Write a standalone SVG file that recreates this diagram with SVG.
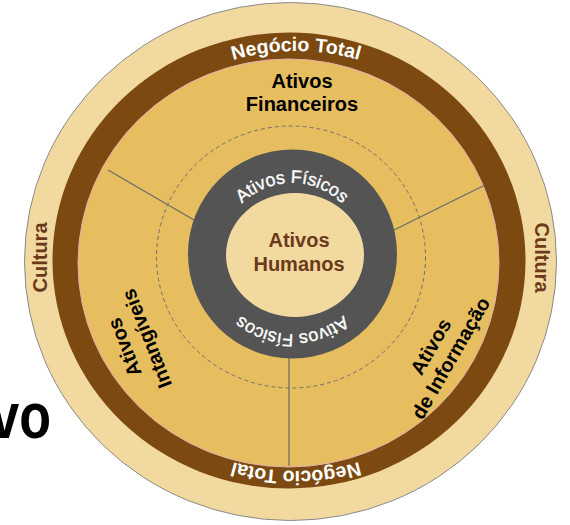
<svg xmlns="http://www.w3.org/2000/svg" width="570" height="525" viewBox="0 0 570 525">
<style>
  .lbl { font-family: "Liberation Sans", Arial, sans-serif; font-weight: bold; }
  .blk { fill: #000; font-size: 20px; }
  .hum { fill: #6B3A1A; font-size: 20px; }
  .cul { fill: #6B3A1A; font-size: 20px; }
  .wht { fill: #fff; }
  .div { stroke: #6a6a6a; stroke-width: 1.2; fill: none; }
</style>
<defs>
  <path id="ntTop" d="M 79 261 A 217 210 0 0 1 513 261"/>
  <path id="ntBot" d="M 513 261 A 217 210 0 0 1 79 261"/>
  <path id="afTop" d="M 221 254 A 71 71 0 0 1 363 254"/>
  <path id="afBot" d="M 372 254 A 80 80 0 0 1 212 254"/>
</defs>
<rect width="570" height="525" fill="#fff"/>
<g id="title-fragment">
  <text class="lbl" transform="translate(51,438) scale(0.8,1)" text-anchor="end" font-size="65" fill="#000">vo</text>
</g>
<g id="ring-cultura">
  <ellipse cx="290.5" cy="261.5" rx="266" ry="259" fill="#F2D9A0" stroke="#8a8a8a" stroke-width="1"/>
  <text class="lbl cul" transform="translate(47,257.5) rotate(-90)" text-anchor="middle">Cultura</text>
  <text class="lbl cul" transform="translate(535,257.5) rotate(90)" text-anchor="middle">Cultura</text>
</g>
<g id="ring-negocio-total">
  <ellipse cx="289" cy="260.5" rx="236.5" ry="228" fill="#7C4A10"/>
  <text class="lbl wht" font-size="19.5"><textPath href="#ntTop" startOffset="50%" text-anchor="middle">Negócio Total</textPath></text>
  <text class="lbl wht" font-size="19.5"><textPath href="#ntBot" startOffset="50%" text-anchor="middle">Negócio Total</textPath></text>
</g>
<g id="area-ativos">
  <ellipse cx="288.5" cy="263" rx="210.5" ry="204" fill="#E6BE5F" stroke="#E3B0B0" stroke-width="1"/>
  <ellipse cx="291" cy="257" rx="134.5" ry="131" fill="none" stroke="#707070" stroke-width="1" stroke-dasharray="4 3"/>
</g>
<g id="connectors">
  <line class="div" x1="108" y1="170" x2="194" y2="220"/>
  <line class="div" x1="485" y1="185" x2="394" y2="230"/>
  <line class="div" x1="289" y1="358" x2="289" y2="466"/>
</g>
<g id="ativos-financeiros">
  <text class="lbl blk" x="302" y="88" text-anchor="middle">Ativos</text>
  <text class="lbl blk" x="302" y="111" text-anchor="middle">Financeiros</text>
</g>
<g id="ativos-intangiveis" transform="translate(135.5,343) rotate(-111.5)">
  <text class="lbl blk" x="0" y="-5" text-anchor="middle" font-size="19.5">Ativos</text>
  <text class="lbl blk" x="0" y="19" text-anchor="middle" font-size="19.5">Intangíveis</text>
</g>
<g id="ativos-informacao" transform="translate(441,352.5) rotate(-60)">
  <text class="lbl blk" x="0" y="-5" text-anchor="middle" font-size="19.5">Ativos</text>
  <text class="lbl blk" x="0" y="18" text-anchor="middle" font-size="19.5">de Informação</text>
</g>
<g id="ativos-fisicos">
  <circle cx="292.5" cy="254" r="104.5" fill="#545454"/>
  <text class="wht" font-family="Liberation Sans, Arial, sans-serif" font-size="18" stroke="#fff" stroke-width="0.35"><textPath href="#afTop" startOffset="50%" text-anchor="middle">Ativos Físicos</textPath></text>
  <text class="wht" font-family="Liberation Sans, Arial, sans-serif" font-size="18" stroke="#fff" stroke-width="0.35"><textPath href="#afBot" startOffset="50%" text-anchor="middle">Ativos Físicos</textPath></text>
</g>
<g id="ativos-humanos">
  <ellipse cx="295" cy="255" rx="69" ry="62" fill="#F2D9A0"/>
  <text class="lbl hum" x="299" y="247" text-anchor="middle">Ativos</text>
  <text class="lbl hum" x="299" y="271" text-anchor="middle">Humanos</text>
</g>
</svg>
